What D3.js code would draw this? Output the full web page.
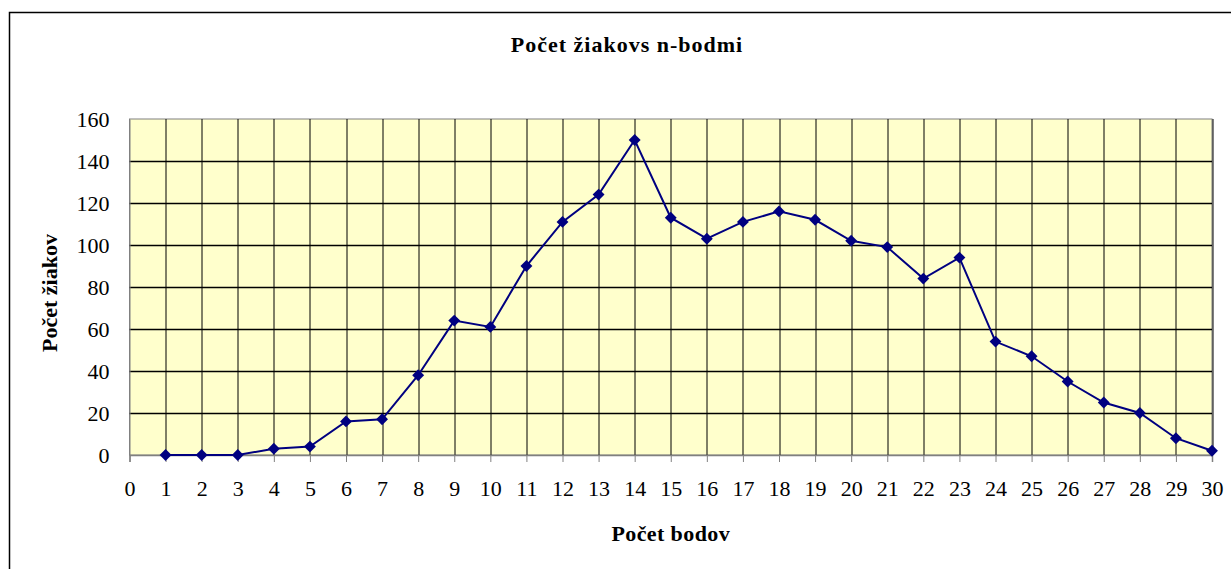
<!DOCTYPE html>
<html>
<head>
<meta charset="utf-8">
<script src="https://cdn.jsdelivr.net/npm/d3@7"></script>
<style>
  body { margin: 0; background: #fff; overflow: hidden; }
  svg { display: block; }
  text { font-family: "Liberation Serif", "Times New Roman", serif; fill: #000; }
</style>
</head>
<body>
<div id="wrapper"></div>
<script>
// Data
const bodyCategories = d3.range(1, 31)
const pocetZiakov = [0, 0, 0, 3, 4, 16, 17, 38, 64, 61, 90, 111, 124, 150, 113,
  103, 111, 116, 112, 102, 99, 84, 94, 54, 47, 35, 25, 20, 8, 2]
const xTicks = d3.range(0, 31)
const yTicks = [0, 20, 40, 60, 80, 100, 120, 140, 160]

const titleText = 'Počet žiakovs n-bodmi'
const xTitle = 'Počet bodov'
const yTitle = 'Počet žiakov'

function drawChart() {
  const width = 1231
  const height = 569
  let dimensions = {
    width: width,
    height: height,
    margin: { top: 119, right: 19, bottom: 114, left: 129.5 },
  }
  dimensions.boundedWidth = dimensions.width - dimensions.margin.left - dimensions.margin.right
  dimensions.boundedHeight = dimensions.height - dimensions.margin.top - dimensions.margin.bottom

  const wrapper = d3.select('#wrapper')
    .append('svg')
      .attr('width', dimensions.width)
      .attr('height', dimensions.height)

  // outer chart frame (right and bottom edges fall outside the picture)
  wrapper.append('rect')
    .attr('x', 9.5)
    .attr('y', 12.5)
    .attr('width', 1240)
    .attr('height', 600)
    .attr('fill', '#fff')
    .attr('stroke', '#000')
    .attr('stroke-width', 1.5)

  const bounds = wrapper.append('g')
    .attr('transform', `translate(${dimensions.margin.left}, ${dimensions.margin.top})`)

  // Scales
  const xScale = d3.scaleLinear()
    .domain([0, 30])
    .range([0, dimensions.boundedWidth])

  const yScale = d3.scaleLinear()
    .domain([0, 160])
    .range([dimensions.boundedHeight, 0])

  // plot area
  bounds.append('rect')
    .attr('width', dimensions.boundedWidth)
    .attr('height', dimensions.boundedHeight)
    .attr('fill', '#FFFFCC')
    .attr('stroke', '#808080')
    .attr('stroke-width', 1)

  // gridlines
  bounds.append('g')
    .selectAll('line')
    .data(yTicks.filter(d => d > 0 && d < 160))
    .join('line')
      .attr('x1', 0)
      .attr('x2', dimensions.boundedWidth)
      .attr('y1', d => Math.round(yScale(d)) + 0.5)
      .attr('y2', d => Math.round(yScale(d)) + 0.5)
      .attr('stroke', '#000')
      .attr('stroke-width', 1.5)

  bounds.append('g')
    .selectAll('line')
    .data(xTicks.filter(d => d > 0))
    .join('line')
      .attr('x1', d => Math.round(xScale(d)) + 0.5)
      .attr('x2', d => Math.round(xScale(d)) + 0.5)
      .attr('y1', 0)
      .attr('y2', dimensions.boundedHeight)
      .attr('stroke', '#000')
      .attr('stroke-width', 1)

  // Axes
  const xAxisGenerator = d3.axisBottom(xScale)
    .tickValues(xTicks)
    .tickFormat(d3.format('d'))
    .tickSize(7)
    .tickPadding(18)

  const xAxis = bounds.append('g')
    .attr('transform', `translate(0, ${dimensions.boundedHeight})`)
    .call(xAxisGenerator)
  xAxis.select('.domain').attr('stroke', '#808080').attr('stroke-width', 1.5)
  xAxis.selectAll('.tick line').attr('stroke', '#808080')
  xAxis.selectAll('text').style('font-size', '22px')

  const yAxisGenerator = d3.axisLeft(yScale)
    .tickValues(yTicks)
    .tickSize(0)
    .tickPadding(20)

  const yAxis = bounds.append('g').call(yAxisGenerator)
  yAxis.select('.domain').attr('stroke', '#808080')
  yAxis.selectAll('text').style('font-size', '22px')

  // Line + markers
  const lineGenerator = d3.line()
    .x((d, i) => xScale(bodyCategories[i]))
    .y(d => yScale(d))

  bounds.append('path')
    .attr('d', lineGenerator(pocetZiakov))
    .attr('fill', 'none')
    .attr('stroke', '#000080')
    .attr('stroke-width', 2)

  const diamond = d3.symbol().type(d3.symbolDiamond2).size(90)
  bounds.append('g')
    .selectAll('path')
    .data(pocetZiakov)
    .join('path')
      .attr('d', diamond)
      .attr('transform', (d, i) => `translate(${xScale(bodyCategories[i])}, ${yScale(d)})`)
      .attr('fill', '#000080')

  // Titles
  wrapper.append('text')
    .attr('x', 627)
    .attr('y', 52)
    .attr('text-anchor', 'middle')
    .style('font-size', '22px')
    .style('letter-spacing', '1px')
    .style('font-weight', 'bold')
    .text(titleText)

  wrapper.append('text')
    .attr('x', dimensions.margin.left + dimensions.boundedWidth / 2)
    .attr('y', 541)
    .attr('text-anchor', 'middle')
    .style('font-size', '22px')
    .style('letter-spacing', '0.4px')
    .style('font-weight', 'bold')
    .text(xTitle)

  wrapper.append('text')
    .attr('transform', `translate(57, ${dimensions.margin.top + dimensions.boundedHeight / 2 + 6}) rotate(-90)`)
    .attr('text-anchor', 'middle')
    .style('font-size', '22px')
    .style('font-weight', 'bold')
    .text(yTitle)
}
drawChart()
</script>
</body>
</html>
